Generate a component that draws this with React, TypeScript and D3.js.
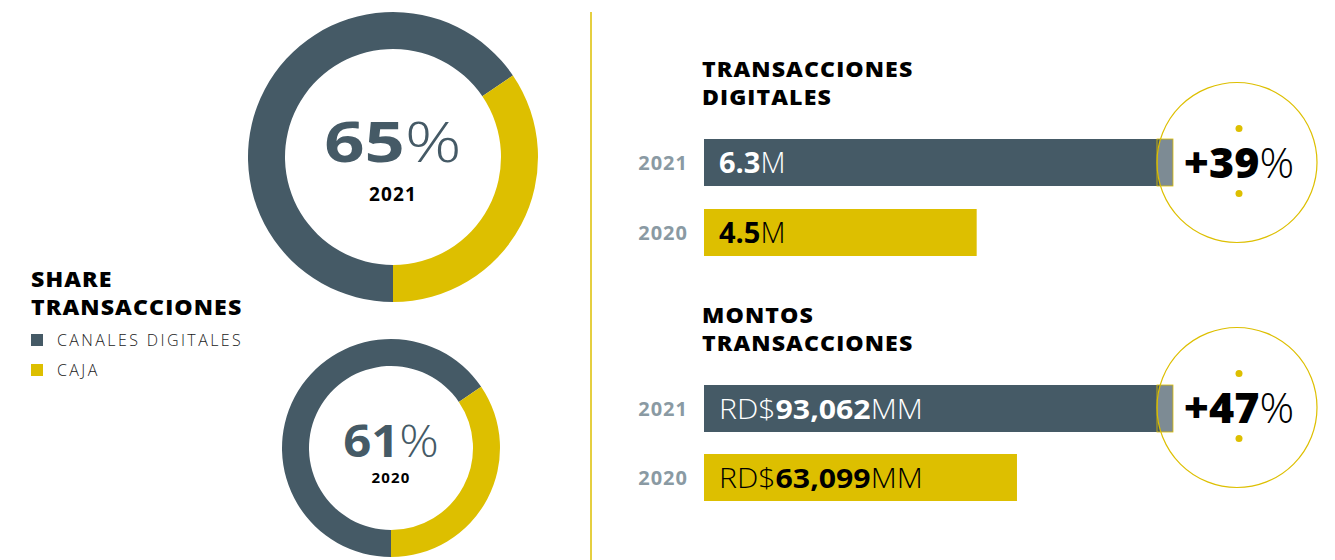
import React from "react";
import * as d3 from "d3";

const W = 1335;
const H = 560;

// Donut data
const donutYears = ["2021", "2020"];
const donutLabels = [65, 61];
// arc shares as drawn in the picture (digital channels, caja)
const donutArcDigital = [65.5, 65.5];
const donutArcCaja = [34.5, 34.5];

const legendLabels = ["CANALES DIGITALES", "CAJA"];

// Bars
const barYears = ["2021", "2020"];
const txValues = [6.3, 4.5];
const txLabels = ["6.3", "4.5"];
const txGrowth = 39;
const amtValues = [93062, 63099];
const amtLabels = ["93,062", "63,099"];
const amtGrowth = 47;

const DARK = "#455a66";
const YELLOW = "#ddbf00";
const GRAY = "#8a9aa3";
const FONT = "'Open Sans', sans-serif";

function Title({ x, y, lines }: any) {
  return (
    <g transform={`translate(${x},${y}) scale(1.1,1)`}>
      <text fontFamily={FONT} fontWeight={800} fontSize={21} letterSpacing={1} fill="#000">
        <tspan x={0} y={0}>{lines[0]}</tspan>
        <tspan x={0} y={28}>{lines[1]}</tspan>
      </text>
    </g>
  );
}

function Donut({ cx, cy, ro, ri, digital, caja, label, year, big, small, yoff, sx, yls }: any) {
  const pie = d3
    .pie<number>()
    .sort(null)
    .startAngle(Math.PI)
    .endAngle(Math.PI * 3);
  const arcs = pie([digital, caja]);
  const arc = d3.arc<any>().innerRadius(ri).outerRadius(ro);
  return (
    <g transform={`translate(${cx},${cy})`}>
      {arcs.map((a, i) => (
        <path key={i} d={arc(a) as string} fill={i === 0 ? DARK : YELLOW} />
      ))}
      <g transform={`translate(0,${yoff[0]}) scale(${sx},1)`}>
        <text textAnchor="middle" fontFamily={FONT} fill={DARK}>
          <tspan fontWeight={700} fontSize={big}>{label}</tspan>
          <tspan fontWeight={300} fontSize={big}>%</tspan>
        </text>
      </g>
      <text textAnchor="middle" y={yoff[1]} fontFamily={FONT} fontWeight={700} fontSize={small}
        letterSpacing={yls} fill="#000">
        {year}
      </text>
    </g>
  );
}

function BarGroup({ top, title, values, labels, scale, prefix, suffix, growth, circleCy, bars }: any) {
  const x0 = 704;
  const bh = 47;
  const cx = 1237;
  const r = 80;
  const end2021 = x0 + scale(values[0]);
  return (
    <g>
      <Title x={702} y={top} lines={title} />
      {values.map((v: number, i: number) => (
        <g key={i}>
          <rect x={x0} y={bars[i]} width={scale(v)} height={bh} fill={i === 0 ? DARK : YELLOW} />
          <text x={688} y={bars[i] + 31} textAnchor="end" fontFamily={FONT} fontWeight={700} fontSize={20}
            letterSpacing={1} fill={GRAY}>
            {barYears[i]}
          </text>
          <g transform={`translate(719,${bars[i] + 34}) scale(${prefix ? 1.12 : 1},1)`}>
            <text fontFamily={FONT} fontSize={prefix ? 27 : 29} fill={i === 0 ? "#fff" : "#000"}>
              {prefix && <tspan fontWeight={300}>{prefix}</tspan>}
              <tspan fontWeight={700}>{labels[i]}</tspan>
              <tspan fontWeight={300}>{suffix}</tspan>
            </text>
          </g>
        </g>
      ))}
      <circle cx={cx} cy={circleCy} r={r} fill="#fff" fillOpacity={0.3} stroke={YELLOW} strokeWidth={1.2} />
      <rect x={cx - r} y={bars[0]} width={end2021 - (cx - r)} height={bh} fill="none" stroke={YELLOW} strokeWidth={0.8} />
      <circle cx={cx + 2} cy={circleCy - 34} r={3.5} fill={YELLOW} />
      <circle cx={cx + 2} cy={circleCy + 31} r={3.5} fill={YELLOW} />
      <text x={cx + 2} y={circleCy + 15} textAnchor="middle" fontFamily={FONT} fontSize={43} fill="#000">
        <tspan fontWeight={800}>+{growth}</tspan>
        <tspan fontWeight={300}>%</tspan>
      </text>
    </g>
  );
}

export default function App() {
  const txScale = d3.scaleLinear().domain([2, 6.3]).range([0, 469]);
  const amtScale = d3.scaleLinear().domain([3000, 93062]).range([0, 469]);
  return (
    <svg width={W} height={H} style={{ position: "absolute", left: 0, top: 0, background: "#fff" }}>
      <Donut cx={393} cy={157} ro={145} ri={108} digital={donutArcDigital[0]} caja={donutArcCaja[0]}
        label={donutLabels[0]} year={donutYears[0]} big={56} small={19} yoff={[5, 44]} sx={1.26} yls={1.2} />
      <Donut cx={391} cy={448} ro={109} ri={82} digital={donutArcDigital[1]} caja={donutArcCaja[1]}
        label={donutLabels[1]} year={donutYears[1]} big={45} small={15} yoff={[9, 35]} sx={1.09} yls={1.2} />

      <Title x={31} y={287} lines={["SHARE", "TRANSACCIONES"]} />
      {legendLabels.map((l, i) => (
        <g key={l}>
          <rect x={31} y={334 + i * 30} width={12} height={12} fill={i === 0 ? DARK : YELLOW} />
          <text x={57} y={346 + i * 30} fontFamily={FONT} fontWeight={300} fontSize={16} letterSpacing={2.4} fill="#222">
            {l}
          </text>
        </g>
      ))}

      <line x1={591} x2={591} y1={12} y2={560} stroke={YELLOW} strokeWidth={1.5} />

      <BarGroup top={77} title={["TRANSACCIONES", "DIGITALES"]} values={txValues} labels={txLabels}
        scale={txScale} prefix="" suffix="M" growth={txGrowth} circleCy={162.5} bars={[139, 209]} />
      <BarGroup top={323} title={["MONTOS", "TRANSACCIONES"]} values={amtValues} labels={amtLabels}
        scale={amtScale} prefix="RD$" suffix="MM" growth={amtGrowth} circleCy={407.5} bars={[385, 454]} />
    </svg>
  );
}
